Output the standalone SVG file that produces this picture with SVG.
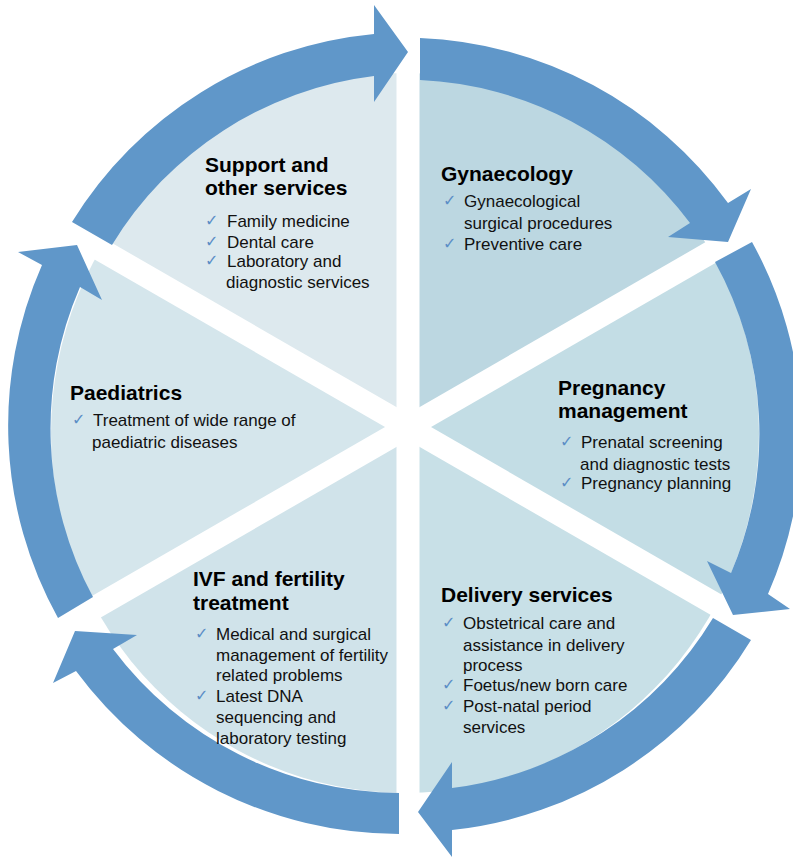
<svg xmlns="http://www.w3.org/2000/svg" width="793" height="857" viewBox="0 0 793 857">
  <style>
    .title { font-family: "Liberation Sans", Arial, sans-serif; font-size: 21px; font-weight: bold; fill: #000; }
    .item { font-family: "Liberation Sans", Arial, sans-serif; font-size: 17px; fill: #111; }
    .tick { font-family: "DejaVu Sans", sans-serif; font-size: 16px; fill: #5b8ec6; }
    .arrow { fill: #6097c9; }
    .gap { stroke: #ffffff; stroke-width: 23; }
  </style>
  <defs>
    <clipPath id="disk">
      <ellipse cx="405" cy="433" rx="354" ry="360"/>
    </clipPath>
  </defs>

  <!-- pie sectors -->
  <g id="sectors" clip-path="url(#disk)">
    <polygon id="sector-gynaecology" points="408,427 408,-173 928,127" fill="#bcd7e1"/>
    <polygon id="sector-pregnancy" points="408,427 928,127 928,727" fill="#c3dde5"/>
    <polygon id="sector-delivery" points="408,427 928,727 408,1027" fill="#c8e0e7"/>
    <polygon id="sector-ivf" points="408,427 408,1027 -112,727" fill="#d0e3ea"/>
    <polygon id="sector-paediatrics" points="408,427 -112,727 -112,127" fill="#d5e6ec"/>
    <polygon id="sector-support" points="408,427 -112,127 408,-173" fill="#dde9ee"/>
  </g>

  <!-- white separations between sectors -->
  <g id="gaps">
    <line class="gap" x1="408" y1="20" x2="408" y2="834"/>
    <line class="gap" x1="760" y1="224" x2="56" y2="630"/>
    <line class="gap" x1="760" y1="630" x2="56" y2="224"/>
  </g>

  <!-- cycle arrows -->
  <g id="connectors">
    <path class="arrow" d="M 420,38 A 400 400 0 0 1 728,203 L 751,189 L 728,242 L 668,237 L 690,223 A 357 357 0 0 0 420,80 Z"/>
    <path class="arrow" d="M 752,242 A 397 397 0 0 1 768,594 L 790,609 L 733,615 L 707,561 L 731,573 A 355 355 0 0 0 715,262 Z"/>
    <path class="arrow" d="M 751,640 A 400 400 0 0 1 452,830 L 452,857 L 418,812 L 452,762 L 452,788 A 358 358 0 0 0 713,618 Z"/>
    <path class="arrow" d="M 399,834 A 402 402 0 0 1 76,671 L 53,683 L 75,631 L 137,635 L 113,649 A 360 360 0 0 0 399,793 Z"/>
    <path class="arrow" d="M 58,618 A 397 397 0 0 1 42,265 L 18,252 L 77,245 L 102,300 L 80,287 A 355 355 0 0 0 93,597 Z"/>
    <path class="arrow" d="M 72,222 A 398 398 0 0 1 374,34 L 374,5 L 408,52 L 374,102 L 374,76 A 357 357 0 0 0 112,245 Z"/>
  </g>

  <g id="support">
    <text class="title" x="205" y="172">Support and</text>
    <text class="title" x="205" y="195">other services</text>
    <text class="tick" x="205" y="226">✓</text>
    <text class="item" x="227" y="227">Family medicine</text>
    <text class="tick" x="205" y="247">✓</text>
    <text class="item" x="227" y="248">Dental care</text>
    <text class="tick" x="205" y="266">✓</text>
    <text class="item" x="227" y="267">Laboratory and</text>
    <text class="item" x="226" y="288">diagnostic services</text>
  </g>

  <g id="gynaecology">
    <text class="title" x="441" y="181">Gynaecology</text>
    <text class="tick" x="443" y="206">✓</text>
    <text class="item" x="464" y="207">Gynaecological</text>
    <text class="item" x="464" y="229">surgical procedures</text>
    <text class="tick" x="443" y="249">✓</text>
    <text class="item" x="464" y="250">Preventive care</text>
  </g>

  <g id="pregnancy">
    <text class="title" x="558" y="395">Pregnancy</text>
    <text class="title" x="558" y="418">management</text>
    <text class="tick" x="560" y="447">✓</text>
    <text class="item" x="581" y="448">Prenatal screening</text>
    <text class="item" x="580" y="470">and diagnostic tests</text>
    <text class="tick" x="560" y="488">✓</text>
    <text class="item" x="581" y="489">Pregnancy planning</text>
  </g>

  <g id="delivery">
    <text class="title" x="441" y="602">Delivery services</text>
    <text class="tick" x="442" y="628">✓</text>
    <text class="item" x="463" y="629">Obstetrical care and</text>
    <text class="item" x="463" y="651">assistance in delivery</text>
    <text class="item" x="463" y="671">process</text>
    <text class="tick" x="442" y="690">✓</text>
    <text class="item" x="463" y="691">Foetus/new born care</text>
    <text class="tick" x="442" y="711">✓</text>
    <text class="item" x="463" y="712">Post-natal period</text>
    <text class="item" x="463" y="733">services</text>
  </g>

  <g id="ivf">
    <text class="title" x="193" y="586">IVF and fertility</text>
    <text class="title" x="193" y="610">treatment</text>
    <text class="tick" x="195" y="639">✓</text>
    <text class="item" x="216" y="640">Medical and surgical</text>
    <text class="item" x="216" y="661">management of fertility</text>
    <text class="item" x="216" y="681">related problems</text>
    <text class="tick" x="195" y="701">✓</text>
    <text class="item" x="216" y="702">Latest DNA</text>
    <text class="item" x="216" y="723">sequencing and</text>
    <text class="item" x="216" y="744">laboratory testing</text>
  </g>

  <g id="paediatrics">
    <text class="title" x="70" y="400">Paediatrics</text>
    <text class="tick" x="72" y="425">✓</text>
    <text class="item" x="93" y="426">Treatment of wide range of</text>
    <text class="item" x="92" y="448">paediatric diseases</text>
  </g>
</svg>
